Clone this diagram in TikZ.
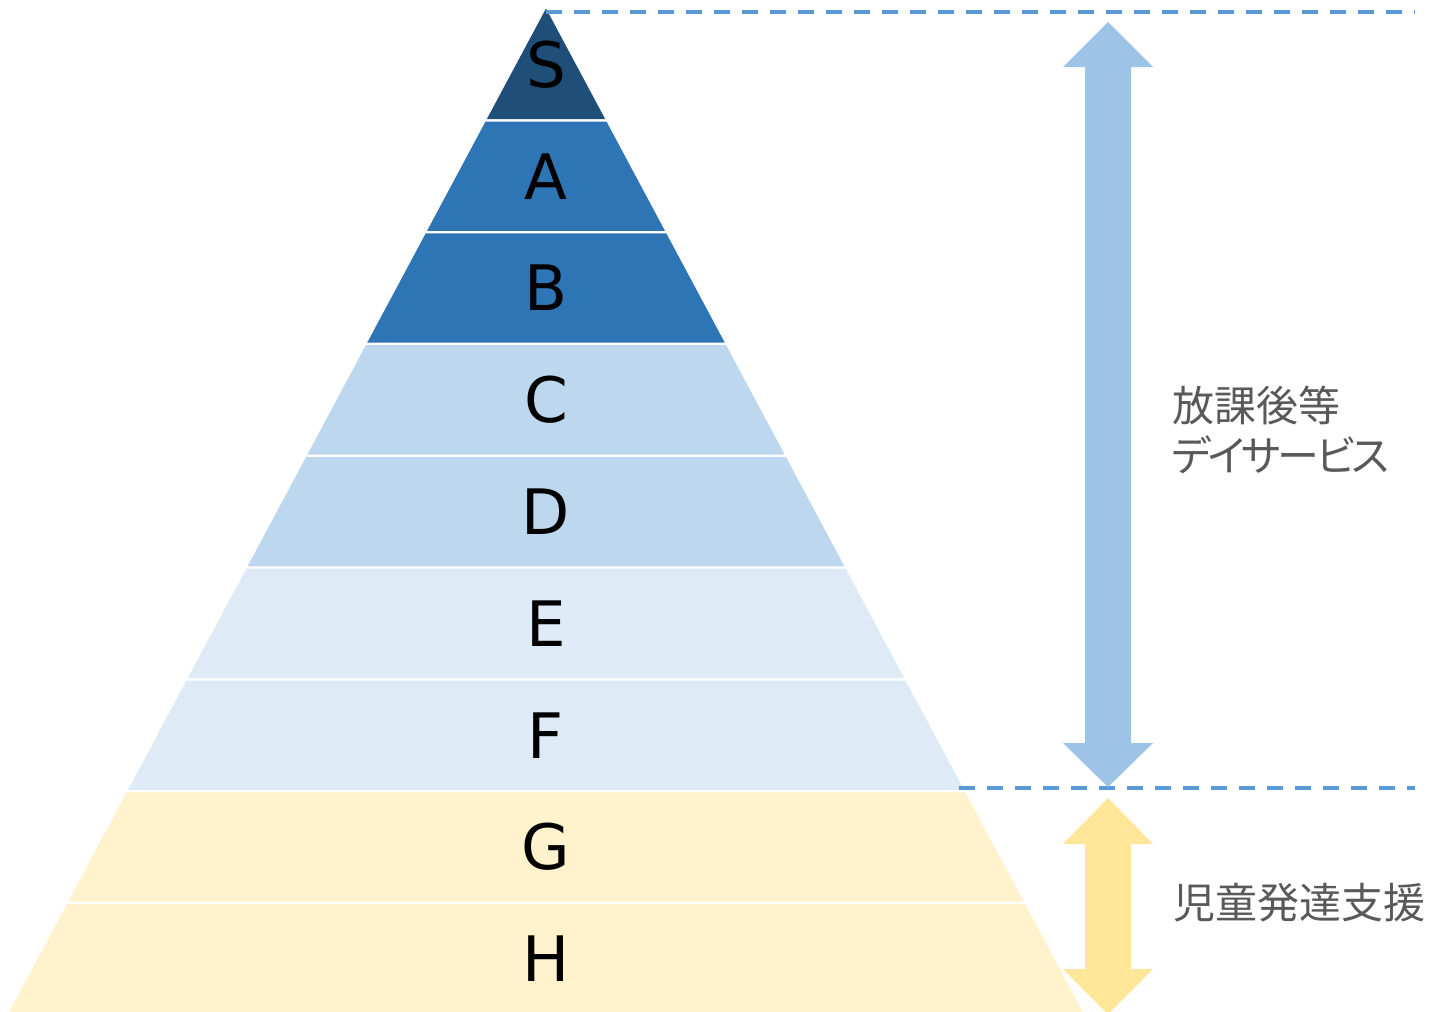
\documentclass[tikz,border=0pt]{standalone}
\usepackage{fontspec}
\setmainfont{DejaVu Sans}
\newfontfamily\jpfont{Noto Sans CJK JP}
\newfontfamily\jpkana[RawFeature=+palt,LetterSpace=-8]{Noto Sans CJK JP}
\definecolor{layS}{HTML}{1F4E79}
\definecolor{layAB}{HTML}{2E75B6}
\definecolor{layCD}{HTML}{BDD7EE}
\definecolor{layEF}{HTML}{DEEBF7}
\definecolor{layGH}{HTML}{FFF2CC}
\definecolor{arrBlue}{HTML}{9DC3E6}
\definecolor{arrYel}{HTML}{FFE699}
\definecolor{dashBlue}{HTML}{5B9BD5}
\definecolor{txtGray}{HTML}{595959}
\tikzset{
  letter/.style={font=\fontsize{47}{50}\selectfont, text=black, inner sep=0pt},
  sidetext/.style={font=\jpfont\fontsize{31.5}{37.5}\selectfont, text=txtGray, inner sep=0pt, anchor=west, align=left},
  guide/.style={draw=dashBlue, line width=2.9pt, dash pattern=on 12pt off 9pt},
}
\begin{document}
\begin{tikzpicture}[x=0.75pt,y=-0.75pt]
\useasboundingbox (0,0) rectangle (1431,1011);
% pyramid layers
\def\apx{546}\def\apy{8.5}\def\lh{111.8}\def\sl{0.535}
\foreach \i/\col/\lab in {0/layS/S,1/layAB/A,2/layAB/B,3/layCD/C,4/layCD/D,5/layEF/E,6/layEF/F,7/layGH/G,8/layGH/H}{
  \pgfmathsetmacro\ya{\apy+\i*\lh+(\i>0)*1.2}
  \pgfmathsetmacro\yb{\apy+(\i+1)*\lh-1.2}
  \pgfmathsetmacro\wa{\sl*(\ya-\apy)}
  \pgfmathsetmacro\wb{\sl*(\yb-\apy)}
  \pgfmathsetmacro\yc{\apy+(\i+0.5)*\lh}
  \fill[\col] ({\apx-\wa},\ya) -- ({\apx+\wa},\ya) -- ({\apx+\wb},\yb) -- ({\apx-\wb},\yb) -- cycle;
  \node[letter] (L\lab) at (\apx,\yc) {\lab};
}
% guide lines
\coordinate (topL) at (546,12);
\coordinate (topR) at (1415,12);
\coordinate (midL) at (959,788);
\coordinate (midR) at (1415,788);
\draw[guide] (topL) -- (topR);
\draw[guide] (midL) -- (midR);
% blue double arrow
\fill[arrBlue] (1108,22) -- (1153,67) -- (1131,67) -- (1131,743) -- (1153,743) -- (1108,787)
  -- (1063,743) -- (1085,743) -- (1085,67) -- (1063,67) -- cycle;
% yellow double arrow
\fill[arrYel] (1108,798) -- (1153,844) -- (1131,844) -- (1131,969) -- (1153,969) -- (1108,1014)
  -- (1063,969) -- (1085,969) -- (1085,844) -- (1063,844) -- cycle;
% labels
\node[sidetext] (t1) at (1172,430) {放課後等\\{\jpkana デイサービス}};
\node[sidetext] (t2) at (1173,903) {児童発達支援};
\end{tikzpicture}
\end{document}
